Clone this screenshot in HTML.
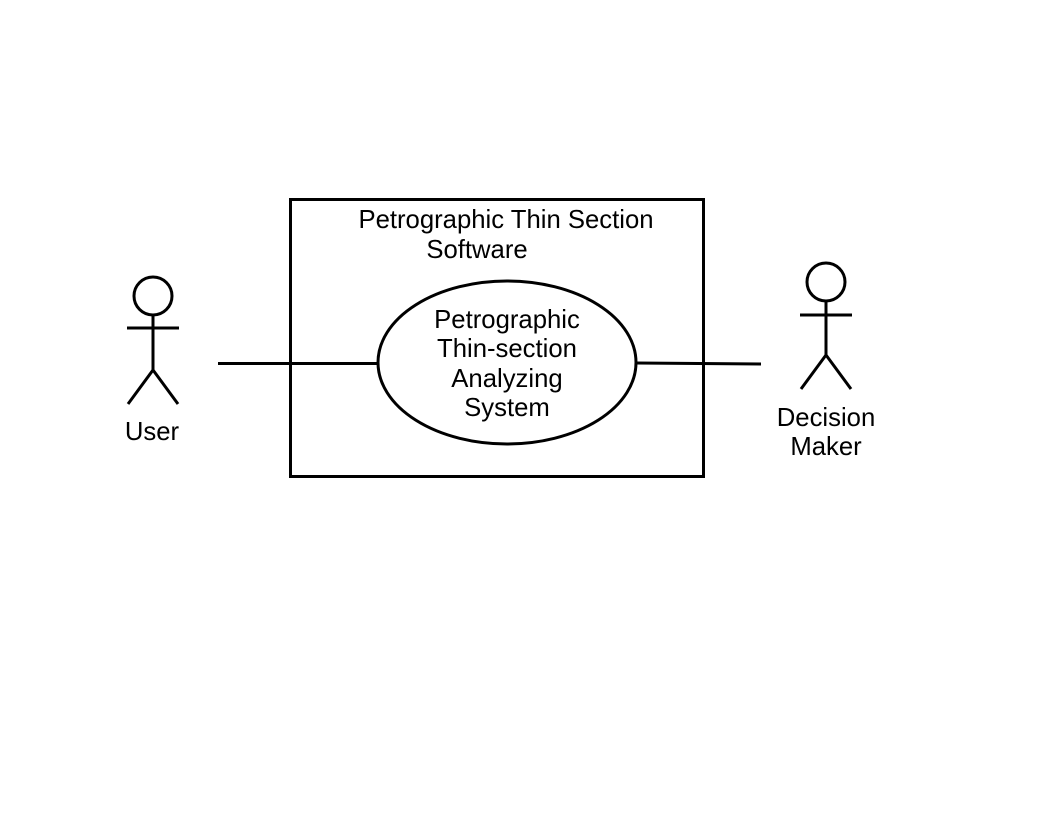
<!DOCTYPE html>
<html><head><style>
html,body{margin:0;padding:0;background:#fff;}
svg{display:block;}
text{font-family:"Liberation Sans",sans-serif;font-size:25.7px;fill:#000;}
</style></head><body>
<svg width="1056" height="816" viewBox="0 0 1056 816">
<rect x="290.5" y="199.5" width="413" height="277" fill="none" stroke="#000" stroke-width="3"/>
<text x="506" y="228" text-anchor="middle">Petrographic Thin Section</text>
<text x="477" y="258" text-anchor="middle">Software</text>
<ellipse cx="507" cy="362.5" rx="129" ry="81.5" fill="none" stroke="#000" stroke-width="3"/>
<text x="507" y="328" text-anchor="middle">Petrographic</text>
<text x="507" y="357" text-anchor="middle">Thin-section</text>
<text x="507" y="387" text-anchor="middle">Analyzing</text>
<text x="507" y="416" text-anchor="middle">System</text>
<line x1="218" y1="363.5" x2="378" y2="363.5" stroke="#000" stroke-width="3"/>
<line x1="636" y1="363" x2="761" y2="364" stroke="#000" stroke-width="3"/>
<g fill="none" stroke="#000" stroke-width="3">
<circle cx="153" cy="296" r="19"/>
<line x1="153" y1="315" x2="153" y2="370"/>
<line x1="127" y1="328" x2="179" y2="328"/>
<line x1="153" y1="370" x2="128" y2="404"/>
<line x1="153" y1="370" x2="178" y2="404"/>
<circle cx="826" cy="282" r="19"/>
<line x1="826" y1="301" x2="826" y2="355"/>
<line x1="800" y1="315" x2="852" y2="315"/>
<line x1="826" y1="355" x2="801" y2="389"/>
<line x1="826" y1="355" x2="851" y2="389"/>
</g>
<text x="152" y="440" text-anchor="middle">User</text>
<text x="826" y="426" text-anchor="middle">Decision</text>
<text x="826" y="455" text-anchor="middle">Maker</text>
</svg>
</body></html>
